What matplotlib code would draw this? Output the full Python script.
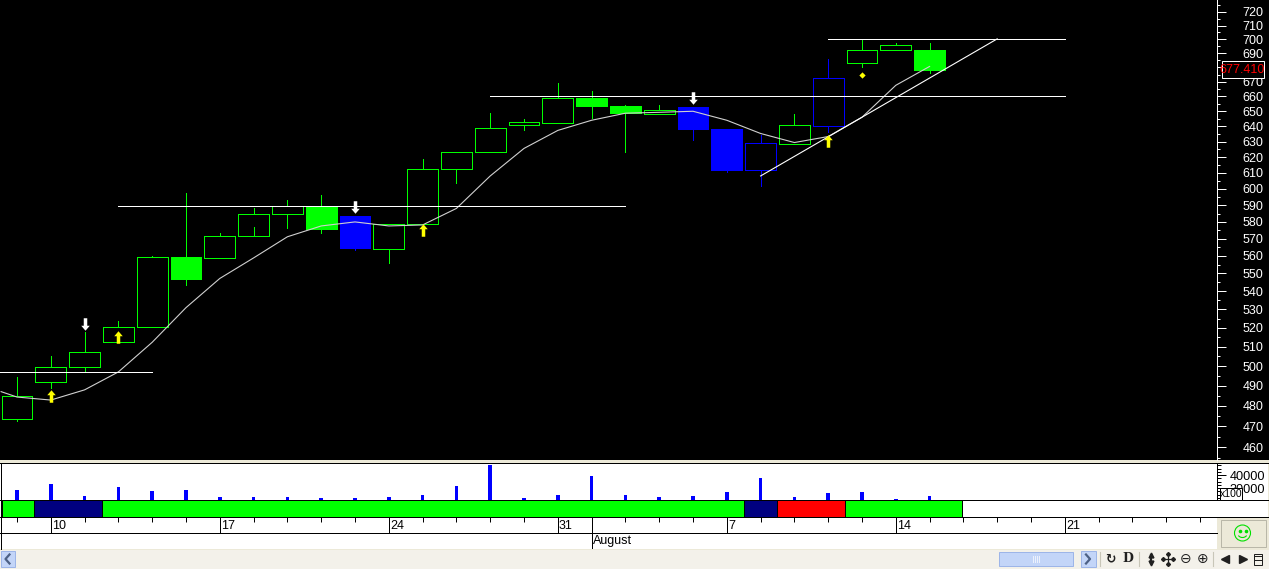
import matplotlib
matplotlib.use("Agg")
import matplotlib.pyplot as plt
from matplotlib.patches import Rectangle, Circle, Arc
from matplotlib.path import Path
from matplotlib.ticker import FixedLocator, FixedFormatter, NullFormatter, MultipleLocator

plt.rcParams['font.family'] = ['Liberation Sans', 'DejaVu Sans']

# ---- data ----
opens_top = [485, 499.5, 507.5, 520.5, 559.5, 559.5, 571.8, 584.7, 589.4, 589.4, 583.5, 578.8,
             612.6, 623, 638.7, 642.7, 658.7, 658.7, 653.3, 650.6, 652.7, 638, 629.4, 640.7,
             672.8, 692, 695.7, 692]
body_bottom = [473.3, 492, 499.5, 512.4, 520.5, 547, 559, 571.8, 584.7, 576, 564.6, 564,
               578.8, 612.6, 623, 640.7, 642, 653.3, 648.7, 648.4, 638, 612, 612, 628.7,
               640, 682.9, 692, 678]
highs = [494.2, 505, 518, 524, 559.9, 597.5, 573.5, 588.2, 593, 596.2, 583.5, 578.8,
         618.7, 623, 648.7, 644.7, 669, 663.5, 654, 654, 652.7, 638, 634, 648,
         685.7, 700, 697.1, 697.1]
lows = [472.4, 489, 497.5, 512.4, 520.5, 543.5, 559, 571.8, 576.5, 573.5, 563.5, 556,
        578.8, 604, 623, 637.3, 642, 645.3, 623.6, 648.4, 631.3, 610.6, 602, 628.7,
        636, 680, 692, 675.9]
body_colors = ['g'] * 28
for _i in (10, 20, 21, 22, 24):
    body_colors[_i] = 'b'
filled_days = [5, 9, 10, 17, 18, 20, 21, 27]
inner_wick_day = [7]
inner_wick_low = [571.8]
inner_wick_high = [577]

ma_days = [-0.47, 0, 1, 2, 3, 4, 5, 6, 7, 8, 9, 10, 11, 12, 13, 14, 15, 16, 17, 18, 19, 20, 21, 22, 23, 24, 25, 26, 27]
ma_values = [487, 484.3, 482.8, 487.9, 497, 512.4, 531, 547.2, 558.9, 571.2, 577.6, 580, 577.6,
             578.2, 588.1, 608.1, 625.6, 637.3, 644, 648.7, 649.3, 650, 644, 635.3, 629.4,
             633.3, 646, 667.6, 680.7]

level_prices = [496.8, 589.7, 660, 700.3]
level_start = [-0.5, 3, 14, 24]
level_end = [4, 18, 31, 31]
trend_days = [22, 29]
trend_prices = [608.1, 700.3]

up_arrow_days = [1, 3, 12, 24]
up_arrow_prices = [485, 515, 575.2, 630.6]
down_arrow_days = [2, 10, 20]
down_arrow_prices = [522.3, 588.8, 658.7]
diamond_days = [25]
diamond_prices = [674.6]

price_ticks = list(range(460, 721, 10))
price_minor = list(range(455, 726, 10))
price_hidden = [680]
current_price = "677.410"

volumes = [28460, 33080, 23850, 30770, 27700, 28460, 23080, 23080, 23080, 22300, 22300, 23460,
           24620, 31540, 47690, 22310, 24620, 39230, 24620, 23080, 23850, 26920, 37690, 23080,
           26150, 26920, 21540, 23850]
vol_ticks = [30000, 40000]

band_start = [-0.45, 0.5, 2.5, 21.5, 22.5, 24.5]
band_end = [0.5, 2.5, 21.5, 22.5, 24.5, 27.96]
band_colors = ['#00ff00', '#000080', '#00ff00', '#000080', '#ff0000', '#00ff00']

date_days = [1, 6, 11, 16, 21, 26, 31]
date_labels = ['10', '17', '24', '31', '7', '14', '21']
month_day = [17]
month_label = ['August']

# ---- layout helpers ----
W, H = 1269, 569
BEIGE = '#ece9d8'
LW = 0.72
fig = plt.figure(figsize=(W / 100, H / 100), dpi=100, facecolor=BEIGE)


def rect(l, t, r, b):
    return [l / W, 1 - b / H, (r - l) / W, (b - t) / H]


XLIM = (-17 / 33.8, 1200 / 33.8)
days = list(range(len(volumes)))

# background chrome
bg = fig.add_axes([0, 0, 1, 1], zorder=-1)
bg.set_xlim(0, W)
bg.set_ylim(H, 0)
bg.axis('off')
bg.add_patch(Rectangle((0, 0), W, 460, fc='black', ec='none'))
bg.add_patch(Rectangle((0, 463), 1268, 54, fc='white', ec='none'))
bg.add_patch(Rectangle((0, 517), 1217, 32, fc='white', ec='none'))
bg.add_patch(Rectangle((0, 550), W, 19, fc='#f3f1ea', ec='none'))
for _y in (463, 500, 517):
    bg.plot([0, 1268], [_y, _y], color='black', lw=LW, solid_capstyle='butt', antialiased=False)
bg.plot([0, 1217], [533, 533], color='black', lw=LW, antialiased=False)
bg.plot([0.5, 0.5], [463, 549], color='black', lw=LW, antialiased=False)

# ---- price panel ----
ax = fig.add_axes(rect(0, 0, 1217, 460), facecolor='black')
ax.set_xlim(*XLIM)
ax.set_yscale('log')
ax.set_ylim(453.9, 728.9)
for s in ('left', 'top', 'bottom'):
    ax.spines[s].set_visible(False)
ax.spines['right'].set_color('white')
ax.spines['right'].set_linewidth(LW)
ax.set_xticks([])
ax.yaxis.tick_right()
ax.yaxis.set_major_locator(FixedLocator(price_ticks))
ax.yaxis.set_major_formatter(FixedFormatter(['' if p in price_hidden else str(p) for p in price_ticks]))
ax.yaxis.set_minor_locator(FixedLocator(price_minor))
ax.yaxis.set_minor_formatter(NullFormatter())
ax.tick_params(axis='y', which='major', length=6.5, width=LW, color='white', labelcolor='white',
               labelsize=9, pad=12)
ax.tick_params(axis='y', which='minor', length=2.5, width=LW, color='white')

PALETTE = {'g': '#00ff00', 'b': '#0000ff'}
for i in days:
    col = PALETTE[body_colors[i]]
    ax.vlines(i, lows[i], highs[i], color=col, lw=LW, zorder=2, antialiased=False)
    fill = col if i in filled_days else 'black'
    ax.bar(i, opens_top[i] - body_bottom[i], bottom=body_bottom[i], width=0.915,
           facecolor=fill, edgecolor=col, linewidth=LW, zorder=3, antialiased=False)
for d, lo, hi in zip(inner_wick_day, inner_wick_low, inner_wick_high):
    ax.vlines(d, lo, hi, color=PALETTE[body_colors[d]], lw=LW, zorder=4, antialiased=False)

ax.plot(ma_days, ma_values, color='#d0d0d0', lw=0.8, zorder=5)
ax.hlines(level_prices, level_start, level_end, color='white', lw=LW, zorder=6, antialiased=False)
ax.plot(trend_days, trend_prices, color='white', lw=0.8, zorder=6)

up_path = Path([(-0.28, -1), (0.28, -1), (0.28, 0.2), (0.68, 0.2), (0, 1), (-0.68, 0.2), (-0.28, 0.2), (-0.28, -1)], closed=True)
down_path = Path([(-0.28, 1), (0.28, 1), (0.28, -0.2), (0.68, -0.2), (0, -1), (-0.68, -0.2), (-0.28, -0.2), (-0.28, 1)], closed=True)
ax.plot(up_arrow_days, up_arrow_prices, ls='none', marker=up_path, ms=9, mfc='#ffff00', mec='none', zorder=7)
ax.plot(down_arrow_days, down_arrow_prices, ls='none', marker=down_path, ms=9, mfc='white', mec='none', zorder=7)
ax.plot(diamond_days, diamond_prices, ls='none', marker='D', ms=3.2, mfc='#ffff00', mec='none', zorder=7)

# ---- volume panel ----
axv = fig.add_axes(rect(0, 463, 1217, 500), facecolor='none')
axv.set_xlim(*XLIM)
vol_base = 20775
axv.set_ylim(vol_base, 49230)
axv.bar(days, [v - vol_base for v in volumes], bottom=vol_base, width=0.11, color='#0000ff', zorder=3)
for s in ('left', 'top', 'bottom'):
    axv.spines[s].set_visible(False)
axv.spines['right'].set_color('black')
axv.spines['right'].set_linewidth(LW)
axv.set_xticks([])
axv.yaxis.tick_right()
axv.yaxis.set_major_locator(FixedLocator(vol_ticks))
axv.yaxis.set_major_formatter(FixedFormatter([str(v) for v in vol_ticks]))
axv.yaxis.set_minor_locator(MultipleLocator(2500))
axv.tick_params(axis='y', which='major', length=6.5, width=LW, labelsize=9.2, pad=2.5, labelcolor='black')
axv.tick_params(axis='y', which='minor', length=3, width=LW)

# ---- indicator band ----
axb = fig.add_axes(rect(0, 500, 1217, 517), facecolor='none')
axb.set_xlim(*XLIM)
axb.set_ylim(0, 1)
axb.axis('off')
axb.barh(0.5, [e - s for s, e in zip(band_start, band_end)], left=band_start, height=1.0,
         color=band_colors, edgecolor='black', linewidth=LW)

# ---- date rows ----
axd = fig.add_axes(rect(0, 517, 1217, 533), facecolor='none')
axd.set_xlim(*XLIM)
axd.set_ylim(0, 1)
for s in axd.spines.values():
    s.set_visible(False)
axd.set_yticks([])
axd.set_xticks(range(0, 36))
axd.tick_params(axis='x', top=True, bottom=False, labelbottom=False, direction='in', length=3.6, width=LW)
axd.vlines(date_days + month_day, 0, 1, color='black', lw=LW, antialiased=False)
for d, lab in zip(date_days, date_labels):
    axd.annotate(lab, (d, 0.42), xytext=(0.8, 0), textcoords='offset points', va='center', ha='left',
                 fontsize=9, color='black')

axm = fig.add_axes(rect(0, 533, 1217, 549), facecolor='none')
axm.set_xlim(*XLIM)
axm.set_ylim(0, 1)
axm.axis('off')
axm.vlines(month_day, 0, 1, color='black', lw=LW, antialiased=False)
for d, lab in zip(month_day, month_label):
    axm.annotate(lab, (d, 0.5), xytext=(0.8, 0), textcoords='offset points', va='center', ha='left',
                 fontsize=9, color='black')

# ---- overlay chrome ----
ui = fig.add_axes([0, 0, 1, 1], zorder=10, facecolor='none')
ui.set_xlim(0, W)
ui.set_ylim(H, 0)
ui.axis('off')
# price box
ui.add_patch(Rectangle((1221.5, 60.5), 42, 17, fc='black', ec='white', lw=LW))
ui.text(1242.5, 69.5, current_price, color='#ff0000', fontsize=9, ha='center', va='center')
# x100 box
ui.add_patch(Rectangle((1219.5, 487.5), 22.5, 12.5, fc='white', ec='black', lw=LW))
ui.text(1230.7, 494, 'x100', color='black', fontsize=7.5, ha='center', va='center')
# smiley
ui.add_patch(Rectangle((1220.5, 519.5), 45.5, 27, fc=BEIGE, ec='#b9b7a8', lw=LW))
ui.add_patch(Circle((1242.5, 533), 8, fc='none', ec='#00e000', lw=0.8))
ui.plot([1239.5, 1245.5], [530.5, 530.5], ls='none', marker='o', ms=1.6, color='#00e000')
ui.add_patch(Arc((1242.5, 534), 9, 7, theta1=20, theta2=160, ec='#00e000', lw=0.8))
# scrollbar
ui.add_patch(Rectangle((0.5, 551), 14, 15.5, fc='#c3d5f8', ec='#9db5e8', lw=LW))
ui.plot([9.5, 5.5, 9.5], [554.5, 559, 563.5], color='#4d6185', lw=1.6)
ui.add_patch(Rectangle((999, 552), 74, 14, fc='#c3d5f8', ec='#9db5e8', lw=LW))
for _x in (1033, 1035, 1037, 1039):
    ui.plot([_x, _x], [556, 562], color='#eef2fd', lw=0.7)
ui.add_patch(Rectangle((1081, 551), 15, 15.5, fc='#c3d5f8', ec='#9db5e8', lw=LW))
ui.plot([1086, 1090, 1086], [554.5, 559, 563.5], color='#4d6185', lw=1.6)
# toolbar
ICON = '#202020'
for _x in (1099.5, 1139, 1213):
    ui.plot([_x, _x], [552, 566], color='#c8c6b8', lw=0.8)
ui.text(1110.5, 559, '\u21bb', fontsize=9, ha='center', va='center', color=ICON, fontweight='bold', family='DejaVu Sans')
ui.text(1127.5, 559, 'D', fontsize=9, ha='center', va='center', color=ICON, family='DejaVu Serif', fontweight='bold')
ui.plot([1151], [555], marker='^', ms=3.5, color=ICON)
ui.plot([1151], [563], marker='v', ms=3.5, color=ICON)
ui.plot([1151, 1151], [555, 563], color=ICON, lw=1.6)
ui.plot([1168, 1168], [553, 565], color=ICON, lw=0.9)
ui.plot([1162, 1174], [559, 559], color=ICON, lw=0.9)
ui.plot([1168, 1168, 1163, 1173], [554, 564, 559, 559], ls='none', marker='D', ms=2.0, color=ICON)
for _x, _c in ((1186, '\u2296'), (1202.5, '\u2295')):
    ui.text(_x, 559, _c, fontsize=10, ha='center', va='center', color=ICON, family='DejaVu Sans')
ui.plot([1225], [559], marker='<', ms=6, color=ICON)
ui.plot([1242.5], [559], marker='>', ms=6, color=ICON)
ui.add_patch(Rectangle((1254, 553.5), 8, 11, fc='none', ec=ICON, lw=LW))
ui.plot([1254, 1262], [556, 556], color=ICON, lw=LW)
ui.plot([1254, 1262], [559.5, 559.5], color=ICON, lw=LW)

fig.savefig('out.png', dpi=100, facecolor=fig.get_facecolor())
